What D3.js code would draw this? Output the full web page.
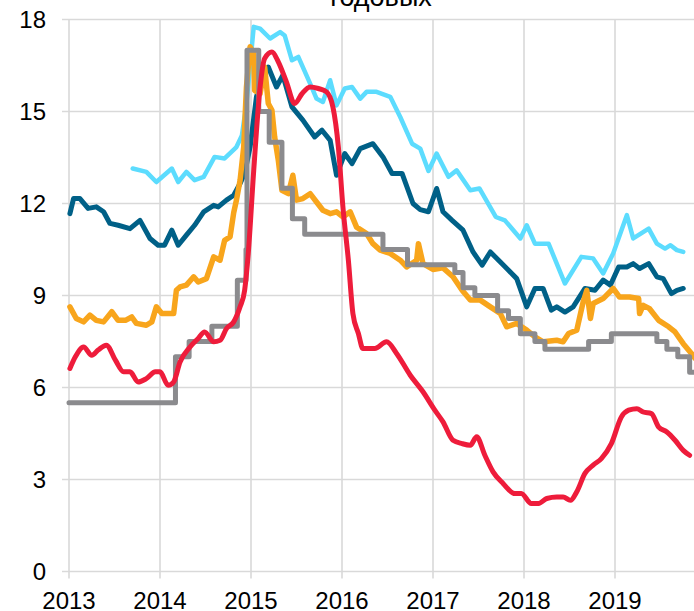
<!DOCTYPE html>
<html>
<head>
<meta charset="utf-8">
<script src="https://cdn.jsdelivr.net/npm/d3@7"></script>
<style>
  body { margin: 0; background: #fff; }
  svg { display: block; font-family: "Liberation Sans", Arial, sans-serif; }
</style>
</head>
<body>
<svg id="chart" width="694" height="611"></svg>
<script>
// values are [year as decimal, % per year]
var yearTicks = [2013, 2014, 2015, 2016, 2017, 2018, 2019];
var valueTicks = [0, 3, 6, 9, 12, 15, 18];
var titleText = "годовых";

var lightBlue = [
  [2013.70,13.14],[2013.85,13.03],[2013.96,12.70],[2014.13,13.14],[2014.20,12.70],[2014.29,13.03],
  [2014.38,12.76],[2014.48,12.87],[2014.60,13.52],[2014.71,13.47],[2014.84,13.84],[2014.90,14.22],
  [2014.95,15.26],[2015.03,17.76],[2015.10,17.70],[2015.21,17.38],[2015.32,17.59],[2015.37,17.48],
  [2015.45,16.67],[2015.52,16.78],[2015.65,15.91],[2015.72,15.42],[2015.79,15.31],[2015.87,16.02],
  [2015.94,15.20],[2016.03,15.75],[2016.11,15.80],[2016.20,15.42],[2016.27,15.64],[2016.38,15.64],
  [2016.53,15.48],[2016.64,14.82],[2016.77,13.95],[2016.86,13.79],[2016.95,13.06],[2017.04,13.63],
  [2017.17,12.87],[2017.26,13.08],[2017.41,12.43],[2017.51,12.49],[2017.69,11.56],[2017.79,11.45],
  [2017.96,10.86],[2018.03,11.29],[2018.12,10.69],[2018.27,10.69],[2018.45,9.39],[2018.63,10.26],
  [2018.76,10.21],[2018.87,9.72],[2018.98,10.37],[2019.13,11.62],[2019.20,10.86],[2019.37,11.18],
  [2019.46,10.69],[2019.55,10.53],[2019.61,10.64],[2019.68,10.48],[2019.75,10.42]
];

var darkBlue = [
  [2013.01,11.67],[2013.05,12.16],[2013.12,12.16],[2013.21,11.84],[2013.30,11.89],[2013.38,11.73],
  [2013.45,11.35],[2013.54,11.29],[2013.67,11.18],[2013.78,11.45],[2013.89,10.86],[2013.98,10.64],
  [2014.05,10.64],[2014.13,11.13],[2014.20,10.64],[2014.29,10.97],[2014.38,11.29],[2014.48,11.73],
  [2014.59,11.94],[2014.64,11.89],[2014.73,12.11],[2014.81,12.27],[2014.88,12.65],[2014.93,12.98],
  [2014.99,13.84],[2015.06,15.48],[2015.14,16.24],[2015.19,16.45],[2015.28,15.80],[2015.35,16.18],
  [2015.45,15.15],[2015.57,14.72],[2015.70,14.17],[2015.78,14.39],[2015.87,14.06],[2015.94,12.92],
  [2016.03,13.63],[2016.11,13.30],[2016.20,13.79],[2016.34,13.95],[2016.45,13.52],[2016.55,12.98],
  [2016.66,12.98],[2016.78,12.00],[2016.86,11.80],[2016.95,11.73],[2017.04,12.49],[2017.11,11.73],
  [2017.21,11.45],[2017.33,11.13],[2017.44,10.42],[2017.54,9.99],[2017.63,10.42],[2017.74,10.09],
  [2017.83,9.82],[2017.92,9.55],[2018.03,8.63],[2018.12,9.23],[2018.21,9.23],[2018.30,8.52],
  [2018.36,8.63],[2018.45,8.46],[2018.54,8.63],[2018.67,9.23],[2018.78,9.17],[2018.87,9.50],
  [2018.95,9.34],[2019.04,9.93],[2019.13,9.93],[2019.20,10.04],[2019.27,9.88],[2019.37,10.04],
  [2019.46,9.61],[2019.53,9.55],[2019.62,9.06],[2019.68,9.17],[2019.75,9.23]
];

var orange = [
  [2013.01,8.63],[2013.08,8.25],[2013.16,8.14],[2013.23,8.36],[2013.30,8.19],[2013.38,8.14],
  [2013.47,8.47],[2013.54,8.19],[2013.62,8.19],[2013.69,8.30],[2013.74,8.09],[2013.85,8.03],
  [2013.91,8.14],[2013.96,8.63],[2014.02,8.41],[2014.09,8.41],[2014.15,8.41],[2014.18,9.17],
  [2014.22,9.28],[2014.29,9.34],[2014.37,9.61],[2014.42,9.44],[2014.51,9.55],[2014.59,10.26],
  [2014.66,10.15],[2014.71,10.80],[2014.77,10.91],[2014.81,11.70],[2014.84,12.11],[2014.88,12.76],
  [2014.92,13.84],[2014.95,15.80],[2014.99,17.11],[2015.03,16.89],[2015.04,15.69],[2015.10,15.58],
  [2015.15,16.45],[2015.19,15.26],[2015.23,15.04],[2015.26,14.17],[2015.30,13.41],[2015.34,12.43],
  [2015.41,12.32],[2015.46,12.92],[2015.50,12.11],[2015.57,12.16],[2015.65,12.32],[2015.72,12.05],
  [2015.79,11.78],[2015.87,11.67],[2015.94,11.73],[2016.01,11.56],[2016.09,11.73],[2016.16,11.23],
  [2016.27,11.02],[2016.34,10.69],[2016.42,10.48],[2016.53,10.37],[2016.64,10.15],[2016.71,9.93],
  [2016.82,10.15],[2016.84,10.69],[2016.89,10.04],[2017.00,9.85],[2017.11,9.90],[2017.22,9.61],
  [2017.32,9.17],[2017.41,8.85],[2017.52,8.85],[2017.63,8.63],[2017.74,8.41],[2017.81,7.98],
  [2017.92,8.09],[2018.03,7.87],[2018.12,7.65],[2018.21,7.49],[2018.36,7.54],[2018.43,7.49],
  [2018.49,7.76],[2018.58,7.87],[2018.65,8.79],[2018.69,9.17],[2018.73,8.25],[2018.76,8.74],
  [2018.87,8.90],[2018.98,9.23],[2019.05,8.95],[2019.16,8.95],[2019.26,8.90],[2019.27,8.41],
  [2019.31,8.68],[2019.38,8.57],[2019.48,8.19],[2019.59,7.98],[2019.66,7.81],[2019.75,7.43],
  [2019.84,7.11],[2019.88,6.95]
];

var keyRate = [
  [2013.00,5.5],[2014.17,7.0],[2014.32,7.5],[2014.57,8.0],[2014.85,9.5],[2014.945,10.5],
  [2014.956,17.0],[2015.085,15.0],[2015.20,14.0],[2015.34,12.5],[2015.455,11.5],[2015.59,11.0],
  [2016.45,10.5],[2016.72,10.0],[2017.24,9.75],[2017.33,9.25],[2017.46,9.0],[2017.71,8.5],
  [2017.83,8.25],[2017.96,7.75],[2018.12,7.5],[2018.23,7.25],[2018.71,7.5],[2018.96,7.75],
  [2019.46,7.5],[2019.57,7.25],[2019.69,7.0],[2019.82,6.5],[2019.92,6.5]
];

var red = [
  [2013.01,6.62],[2013.07,7.00],[2013.16,7.32],[2013.25,7.05],[2013.32,7.22],[2013.41,7.38],
  [2013.51,6.89],[2013.60,6.51],[2013.67,6.51],[2013.76,6.18],[2013.85,6.29],[2013.95,6.51],
  [2014.00,6.51],[2014.09,6.07],[2014.15,6.18],[2014.22,6.83],[2014.33,7.32],[2014.42,7.60],
  [2014.49,7.81],[2014.59,7.49],[2014.66,7.54],[2014.73,7.92],[2014.81,8.14],[2014.88,8.63],
  [2014.93,9.17],[2014.97,10.37],[2015.03,13.08],[2015.10,15.80],[2015.15,16.73],[2015.23,16.94],
  [2015.30,16.62],[2015.39,15.96],[2015.48,15.26],[2015.56,15.58],[2015.65,15.80],[2015.74,15.75],
  [2015.83,15.64],[2015.90,15.15],[2015.96,13.84],[2016.01,11.89],[2016.07,10.15],[2016.12,8.41],
  [2016.18,7.76],[2016.23,7.27],[2016.36,7.27],[2016.49,7.49],[2016.60,7.11],[2016.75,6.40],
  [2016.89,5.86],[2017.02,5.26],[2017.11,4.88],[2017.22,4.28],[2017.32,4.17],[2017.41,4.12],
  [2017.48,4.39],[2017.57,3.79],[2017.66,3.25],[2017.77,2.87],[2017.90,2.54],[2017.97,2.54],
  [2018.08,2.22],[2018.16,2.22],[2018.25,2.38],[2018.36,2.43],[2018.43,2.43],[2018.51,2.32],
  [2018.58,2.60],[2018.67,3.20],[2018.76,3.47],[2018.85,3.68],[2018.96,4.17],[2019.07,5.04],
  [2019.15,5.26],[2019.24,5.31],[2019.31,5.20],[2019.40,5.15],[2019.48,4.71],[2019.57,4.55],
  [2019.66,4.28],[2019.75,3.95],[2019.82,3.79]
];

function draw_chart( svg_id ){
  var svg = d3.select(svg_id);
  var margin = {left: 69, top: 19.5};
  var plot_height = 552;

  var xAxis = d3.scaleLinear().domain([2013, 2020]).range([ margin.left, margin.left + 7*91 ]);
  var yAxis = d3.scaleLinear().domain([0, 18]).range([ margin.top + plot_height, margin.top ]);

  var gridColor = "#d9d9d9";

  // grid
  svg.append("g").selectAll("line.h")
    .data(valueTicks).enter().append("line")
      .attr("x1", xAxis(2013) - 7).attr("x2", 694)
      .attr("y1", function(d){ return yAxis(d); })
      .attr("y2", function(d){ return yAxis(d); })
      .attr("stroke", gridColor).attr("stroke-width", 1.6);

  svg.append("g").selectAll("line.v")
    .data(yearTicks).enter().append("line")
      .attr("x1", function(d){ return xAxis(d); })
      .attr("x2", function(d){ return xAxis(d); })
      .attr("y1", yAxis(18)).attr("y2", yAxis(0) + 7)
      .attr("stroke", gridColor).attr("stroke-width", 1.6);

  // tick labels
  svg.append("g").selectAll("text")
    .data(valueTicks).enter().append("text")
      .attr("x", 46)
      .attr("y", function(d){ return yAxis(d) + 8.5; })
      .attr("text-anchor", "end")
      .attr("font-size", 24)
      .attr("fill", "#000")
      .text(function(d){ return d; });

  svg.append("g").selectAll("text")
    .data(yearTicks).enter().append("text")
      .attr("x", function(d){ return xAxis(d); })
      .attr("y", 609)
      .attr("text-anchor", "middle")
      .attr("font-size", 24)
      .attr("fill", "#000")
      .text(function(d){ return d; });

  svg.append("text")
    .attr("x", 381).attr("y", 6)
    .attr("text-anchor", "middle")
    .attr("font-size", 27)
    .text(titleText);

  var line = d3.line()
    .x(function(d){ return xAxis(d[0]); })
    .y(function(d){ return yAxis(d[1]); });

  var series = [
    {data: lightBlue, color: "#5cdcfe", width: 4.5, curve: d3.curveLinear},
    {data: darkBlue,  color: "#006087", width: 5,   curve: d3.curveLinear},
    {data: orange,    color: "#f8a51c", width: 5.5, curve: d3.curveLinear},
    {data: keyRate,   color: "#8b8b8e", width: 5,   curve: d3.curveStepAfter},
    {data: red,       color: "#ee1c3b", width: 5,   curve: d3.curveMonotoneX}
  ];

  series.forEach(function(s){
    svg.append("path")
      .datum(s.data)
      .attr("fill", "none")
      .attr("stroke", s.color)
      .attr("stroke-width", s.width)
      .attr("stroke-linejoin", "round")
      .attr("stroke-linecap", "round")
      .attr("d", line.curve(s.curve));
  });
}

draw_chart("#chart");
</script>
</body>
</html>
